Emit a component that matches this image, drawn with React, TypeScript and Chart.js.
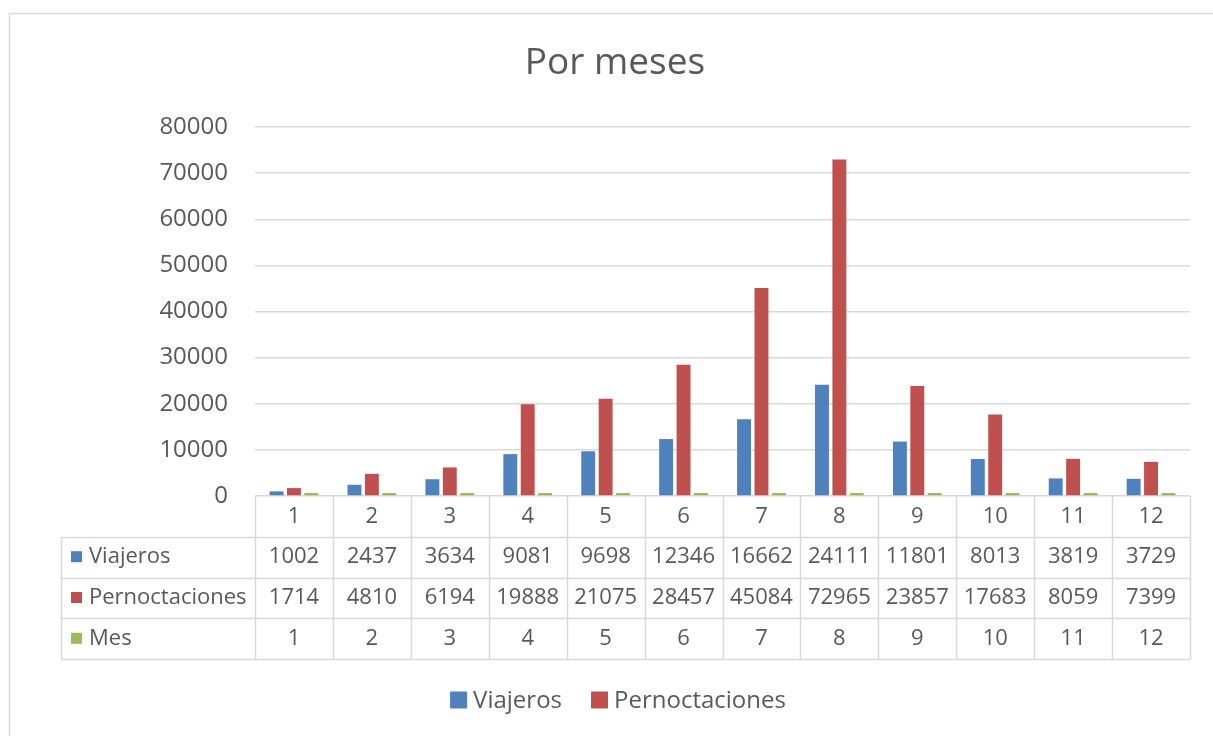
import React, { useEffect, useRef } from "react";
import { Chart, registerables } from "chart.js";

Chart.register(...registerables);

const titleText = "Por meses";
const months = ["1", "2", "3", "4", "5", "6", "7", "8", "9", "10", "11", "12"];
const viajeros = [1002, 2437, 3634, 9081, 9698, 12346, 16662, 24111, 11801, 8013, 3819, 3729];
const pernoctaciones = [1714, 4810, 6194, 19888, 21075, 28457, 45084, 72965, 23857, 17683, 8059, 7399];
const mes = [1, 2, 3, 4, 5, 6, 7, 8, 9, 10, 11, 12];
const seriesNames = ["Viajeros", "Pernoctaciones", "Mes"];
const seriesColors = ["#4f81bd", "#c0504d", "#9bbb59"];
const legendSeries = [0, 1];
const yMax = 80000;
const yStep = 10000;

const FONT = "'Open Sans', 'Noto Sans', sans-serif";
const TEXT = "#595959";
const GRID = "#d9d9d9";

const tablePlugin = {
  id: "excelExtras",
  afterDraw(chart: any) {
    const ctx = chart.ctx as CanvasRenderingContext2D;
    const area = chart.chartArea;
    const x = chart.scales.x;
    const left = area.left;
    const right = area.right;
    const top = area.bottom;
    const rowH = 40.8;
    const labelLeft = 61;
    ctx.save();
    // outer frame
    ctx.strokeStyle = GRID;
    ctx.lineWidth = 1.5;
    ctx.strokeRect(9.5, 13.5, 1300, 800);

    // title
    ctx.fillStyle = TEXT;
    ctx.font = `37px ${FONT}`;
    ctx.textAlign = "center";
    ctx.textBaseline = "middle";
    ctx.fillText(titleText, 615, 63);

    // table grid
    ctx.strokeStyle = GRID;
    ctx.lineWidth = 1.5;
    ctx.beginPath();
    const n = months.length;
    const colW = (right - left) / n;
    for (let i = 0; i <= n; i++) {
      const cx = Math.round(left + i * colW) + 0.5;
      ctx.moveTo(cx, top);
      ctx.lineTo(cx, top + rowH * 4);
    }
    for (let r = 1; r <= 4; r++) {
      const cy = Math.round(top + r * rowH) + 0.5;
      ctx.moveTo(labelLeft, cy);
      ctx.lineTo(right, cy);
    }
    ctx.moveTo(labelLeft + 0.5, top + rowH);
    ctx.lineTo(labelLeft + 0.5, top + rowH * 4);
    ctx.stroke();

    // header row
    ctx.fillStyle = TEXT;
    ctx.font = `22px ${FONT}`;
    ctx.textAlign = "center";
    ctx.textBaseline = "middle";
    months.forEach((m, i) => {
      ctx.fillText(m, x.getPixelForValue(i), top + rowH / 2);
    });
    const rows = [viajeros, pernoctaciones, mes];
    rows.forEach((vals, r) => {
      const cy = top + rowH * (r + 1) + rowH / 2;
      ctx.fillStyle = seriesColors[r];
      ctx.fillRect(71, cy - 6, 11, 11);
      ctx.fillStyle = TEXT;
      ctx.textAlign = "left";
      ctx.fillText(seriesNames[r], 89, cy);
      ctx.textAlign = "center";
      vals.forEach((v, i) => {
        ctx.fillText(String(v), x.getPixelForValue(i), cy);
      });
    });

    // legend
    ctx.font = `24px ${FONT}`;
    ctx.textBaseline = "middle";
    ctx.textAlign = "left";
    const ly = 700;
    const box = 17;
    const gapBoxText = 6;
    const gapItems = 29;
    const widths = legendSeries.map((s) => box + gapBoxText + ctx.measureText(seriesNames[s]).width);
    const total = widths.reduce((a, b) => a + b, 0) + gapItems * (widths.length - 1);
    let lx = 618 - total / 2;
    legendSeries.forEach((s, k) => {
      ctx.fillStyle = seriesColors[s];
      ctx.fillRect(lx, ly - box / 2, box, box);
      ctx.fillStyle = TEXT;
      ctx.fillText(seriesNames[s], lx + box + gapBoxText, ly + 1);
      lx += widths[k] + gapItems;
    });
    ctx.restore();
  },
};

export default function App() {
  const ref = useRef<HTMLCanvasElement | null>(null);
  useEffect(() => {
    document.body.style.margin = "0";
    const canvas = ref.current;
    if (!canvas) return;
    const chart = new Chart(canvas, {
      type: "bar",
      data: {
        labels: months,
        datasets: [
          { label: seriesNames[0], data: viajeros, backgroundColor: seriesColors[0] },
          { label: seriesNames[1], data: pernoctaciones, backgroundColor: seriesColors[1] },
          { label: seriesNames[2], data: mes, backgroundColor: seriesColors[2], minBarLength: 3 },
        ],
      },
      options: {
        responsive: false,
        maintainAspectRatio: false,
        animation: false,
        devicePixelRatio: 1,
        layout: { padding: { top: 127, right: 23, bottom: 76, left: 0 } },
        datasets: { bar: { categoryPercentage: 0.67, barPercentage: 0.8 } },
        plugins: {
          legend: { display: false },
          title: { display: false },
          tooltip: { enabled: false },
        },
        scales: {
          x: {
            ticks: { display: false },
            grid: { display: false },
            border: { display: false },
            afterFit: (scale: any) => {
              scale.height = 164;
            },
          },
          y: {
            min: 0,
            max: yMax,
            ticks: {
              stepSize: yStep,
              color: TEXT,
              font: { family: FONT, size: 24 },
              padding: 27,
              callback: (v: any) => String(v),
            },
            grid: { color: GRID, lineWidth: 1.5, drawTicks: false },
            border: { display: false },
            afterFit: (scale: any) => {
              scale.width = 255;
            },
          },
        },
      },
      plugins: [tablePlugin],
    });
    return () => chart.destroy();
  }, []);
  return (
    <div style={{ position: "fixed", left: 0, top: 0, width: 1213, height: 736, background: "#fff" }}>
      <canvas ref={ref} width={1213} height={736} style={{ width: 1213, height: 736, display: "block" }} />
    </div>
  );
}
